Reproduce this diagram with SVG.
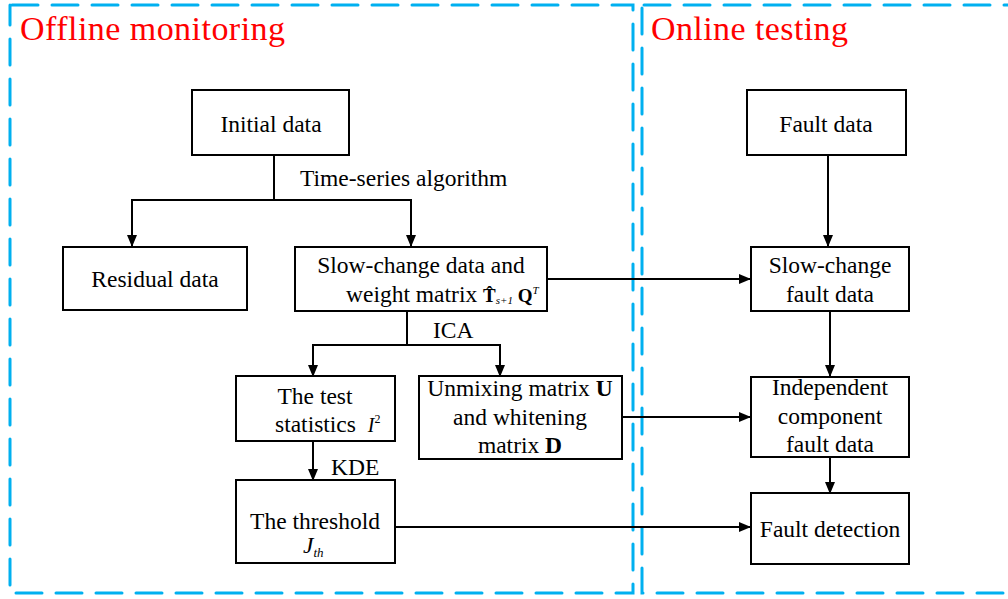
<svg xmlns="http://www.w3.org/2000/svg" width="1008" height="599" viewBox="0 0 1008 599">
<defs>
<marker id="ah" markerWidth="12" markerHeight="10" refX="11" refY="5" orient="auto" markerUnits="userSpaceOnUse">
<path d="M0,0 L12,5 L0,10 Z" fill="#000"/>
</marker>
<style>
.frame{fill:none;stroke:#00B0F0;stroke-width:3;stroke-dasharray:26 14;stroke-linecap:round}
.box{fill:#fff;stroke:#000;stroke-width:2}
.t{font-family:"Liberation Serif","Times New Roman",serif;font-size:23.5px;fill:#000;text-anchor:middle}
.l{font-family:"Liberation Serif","Times New Roman",serif;font-size:23.5px;fill:#000}
.title{font-family:"Liberation Serif","Times New Roman",serif;font-size:34px;fill:#FF0000}
.c{fill:none;stroke:#000;stroke-width:2}
.ca{fill:none;stroke:#000;stroke-width:2;marker-end:url(#ah)}
</style>
</defs>
<rect width="1008" height="599" fill="#fff"/>
<g id="frames">
<path class="frame" d="M12,5 L633,5 L633,593 L10,593 L10,5"/>
<path class="frame" d="M644,5 L1030,5 M642,8 L642,593 L1030,593"/>
<text class="title" x="20" y="40" textLength="265">Offline monitoring</text>
<text class="title" x="651" y="40" textLength="197">Online testing</text>
</g>
<g id="connectors">
<path class="c" d="M274,156 L274,200"/>
<path class="ca" d="M274,200 L132,200 L132,246"/>
<path class="ca" d="M274,200 L411,200 L411,246"/>
<path class="c" d="M407,311 L407,345"/>
<path class="ca" d="M407,345 L313,345 L313,376"/>
<path class="ca" d="M407,345 L500,345 L500,376"/>
<path class="ca" d="M313,441 L313,480"/>
<path class="ca" d="M547,279 L750,279"/>
<path class="ca" d="M622,417 L750,417"/>
<path class="ca" d="M395,527 L750,527"/>
<path class="ca" d="M828,155 L828,246"/>
<path class="ca" d="M830,311 L830,376"/>
<path class="ca" d="M830,457 L830,493"/>
<text class="l" x="300" y="186">Time-series algorithm</text>
<text class="l" x="433" y="338">ICA</text>
<text class="l" x="331" y="475">KDE</text>
</g>
<g id="initial">
<rect class="box" x="192" y="90" width="157" height="65"/>
<text class="t" x="271" y="132">Initial data</text>
</g>
<g id="residual">
<rect class="box" x="63" y="247" width="184" height="63"/>
<text class="t" x="155" y="287">Residual data</text>
</g>
<g id="slowchange">
<rect class="box" x="295" y="247" width="252" height="64"/>
<text class="t" x="421" y="273">Slow-change data and</text>
<text class="l" x="346" y="302">weight matrix <tspan font-weight="bold" font-size="19">T&#x302;</tspan><tspan font-style="italic" font-size="11" dy="2">s+1</tspan><tspan font-weight="bold" font-size="19" dy="-2"> Q</tspan><tspan font-style="italic" font-size="11" dy="-8">T</tspan></text>
</g>
<g id="teststat">
<rect class="box" x="236" y="376" width="159" height="65"/>
<text class="t" x="315" y="404">The test</text>
<text class="l" x="275" y="432">statistics <tspan font-style="italic" font-size="20" dx="6">I</tspan><tspan font-size="12" dy="-9">2</tspan></text>
</g>
<g id="unmixing">
<rect class="box" x="419" y="376" width="203" height="83"/>
<text class="t" x="520" y="396">Unmixing matrix <tspan font-weight="bold">U</tspan></text>
<text class="t" x="520" y="425">and whitening</text>
<text class="t" x="520" y="453">matrix <tspan font-weight="bold">D</tspan></text>
</g>
<g id="threshold">
<rect class="box" x="236" y="480" width="159" height="83"/>
<text class="t" x="315" y="529">The threshold</text>
<text class="l" x="303" y="553" font-style="italic">J<tspan font-size="13" dy="4">th</tspan></text>
</g>
<g id="faultdata">
<rect class="box" x="747" y="90" width="159" height="65"/>
<text class="t" x="826" y="132">Fault data</text>
</g>
<g id="slowfault">
<rect class="box" x="751" y="247" width="158" height="64"/>
<text class="t" x="830" y="273">Slow-change</text>
<text class="t" x="830" y="302">fault data</text>
</g>
<g id="indep">
<rect class="box" x="751" y="377" width="158" height="80"/>
<text class="t" x="830" y="395">Independent</text>
<text class="t" x="830" y="424">component</text>
<text class="t" x="830" y="452">fault data</text>
</g>
<g id="detect">
<rect class="box" x="751" y="493" width="158" height="71"/>
<text class="t" x="830" y="537">Fault detection</text>
</g>
</svg>
